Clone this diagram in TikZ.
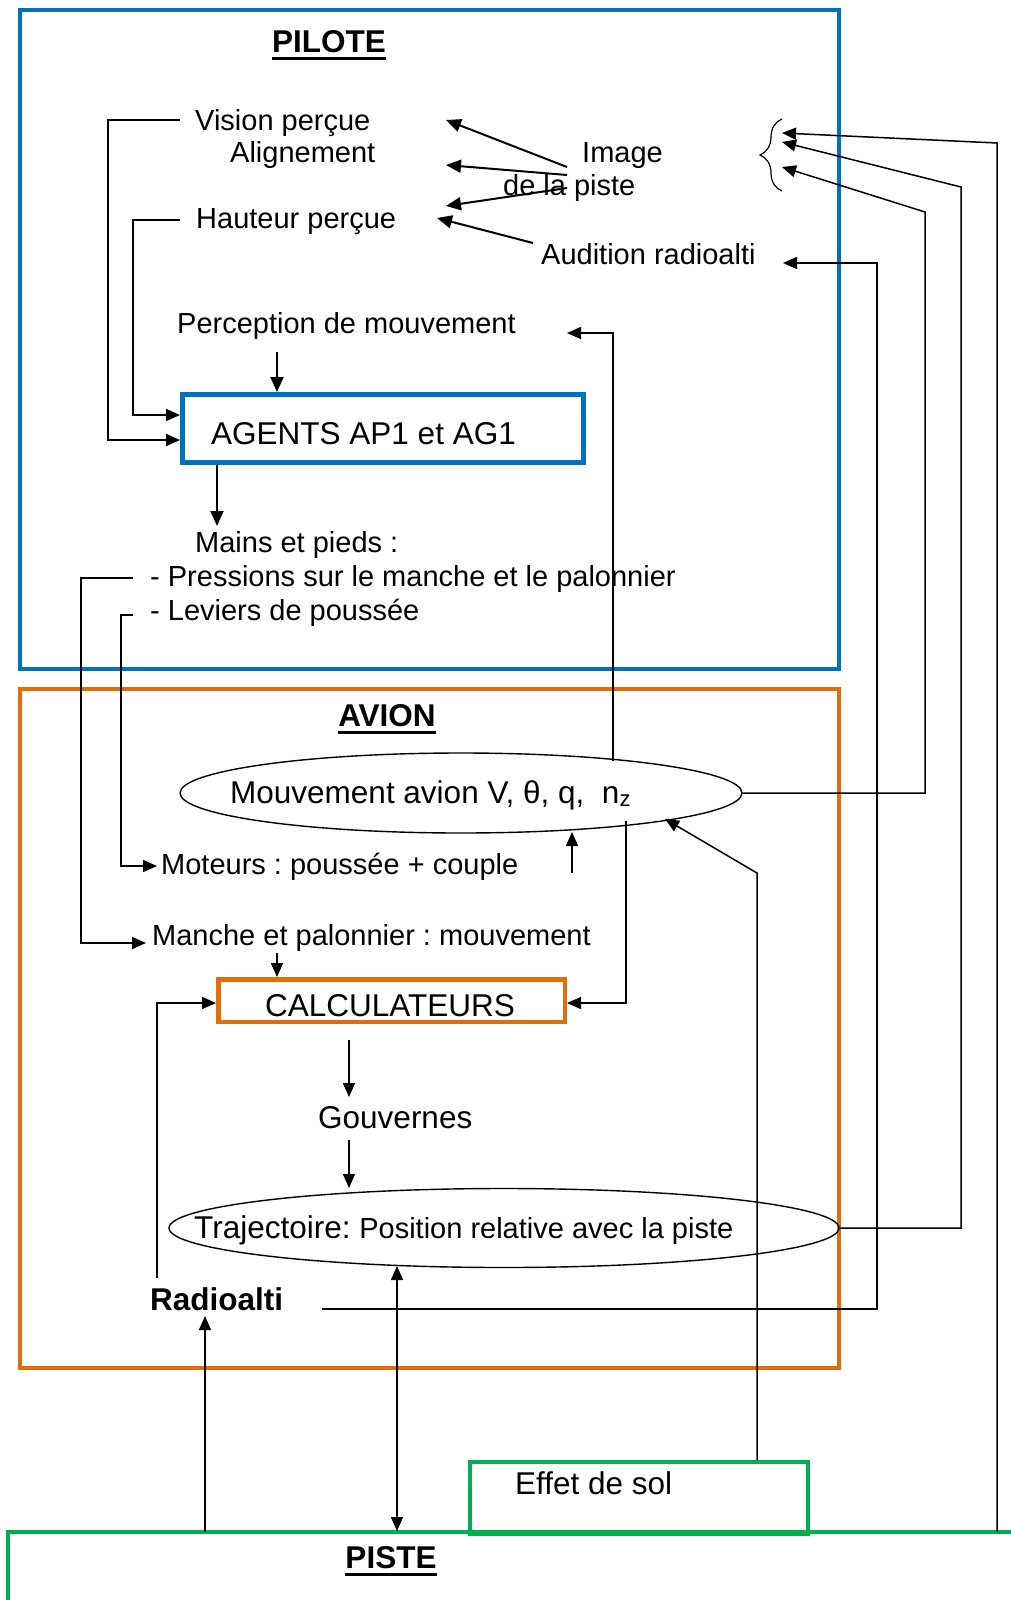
\documentclass[tikz,border=0pt]{standalone}
\usepackage{fontspec}
\setmainfont{Liberation Sans}
\usetikzlibrary{arrows.meta,shapes.geometric,decorations.pathreplacing}
\definecolor{pblue}{RGB}{0,112,192}
\definecolor{porange}{RGB}{228,108,10}
\definecolor{pgreen}{RGB}{0,176,80}
\newcommand\myul[1]{\setbox0\hbox{#1}\rlap{\rule[-7.5pt]{\wd0}{3pt}}\box0}
\frenchspacing
\begin{document}
\begin{tikzpicture}[x=1pt,y=-1pt,
  sm/.style={font=\fontsize{29}{34}\selectfont, inner sep=0pt, anchor=base west},
  lg/.style={font=\fontsize{31.5}{37}\selectfont, inner sep=0pt, anchor=base west},
  ttl/.style={font=\fontsize{31.5}{37}\selectfont\bfseries, inner sep=0pt, anchor=base},
  con/.style={line width=1.4pt},
  arr/.style={line width=1.5pt, -{Triangle[length=14pt,width=12pt]}},
  darr/.style={line width=1.5pt, {Triangle[length=14pt,width=12pt]}-{Triangle[length=14pt,width=12pt]}},
  tarr/.style={line width=2pt, -{Triangle[length=15pt,width=13pt]}},
  frame/.style={line width=3.5pt},
  ell/.style={draw, ellipse, line width=1.4pt, inner sep=0pt}
]
\useasboundingbox (0,0) rectangle (1010,1600);

% frames
\draw[frame, pblue] (20,10) rectangle (839,669);
\draw[frame, porange] (20,689) rectangle (839,1368);
\draw[frame, pgreen] (8,1625) -- (8,1532) -- (1020,1532);

% titles
\node[ttl] (pilote) at (329,53) {\myul{PILOTE}};
\node[ttl] (avion) at (387,726) {\myul{AVION}};
\node[ttl] (piste) at (391,1568) {\myul{PISTE}};

% PILOTE texts
\node[sm] (vision) at (195,131) {Vision perçue};
\node[sm] (align) at (230,162) {Alignement};
\node[sm] (hauteur) at (196,228) {Hauteur perçue};
\node[sm] (image) at (582,162) {Image};
\node[sm] (delapiste) at (503,195) {de la piste};
\node[sm] (audition) at (541,264) {Audition radioalti};
\node[sm] (percep) at (177,333) {Perception de mouvement};
\node[draw=pblue, line width=5pt, minimum width=401pt, minimum height=68pt, inner sep=0pt, anchor=north west] (agents) at (180,392) {};
\node[lg] (agentstxt) at (211,444) {AGENTS AP1 et AG1};
\node[sm] (mains) at (195,552) {Mains et pieds :};
\node[sm] (pressions) at (150,586) {- Pressions sur le manche et le palonnier};
\node[sm] (leviers) at (150,620) {- Leviers de poussée};

% brace
\draw[line width=1.2pt, decorate, decoration={brace, amplitude=22pt}] (782,191) -- (782,119);

% AVION
\node[ell, minimum width=562pt, minimum height=80pt] (mvt) at (461,793) {};
\node[lg] (mvttxt) at (230,803) {Mouvement avion V, θ, q,\ \ n\textsubscript{z}};
\node[sm] (moteurs) at (161,874) {Moteurs : poussée + couple};
\node[sm] (manche) at (152,945) {Manche et palonnier : mouvement};
\node[draw=porange, line width=4.5pt, minimum width=346.5pt, minimum height=42.5pt, inner sep=0pt, anchor=north west] (calc) at (216,977) {};
\node[lg] (calctxt) at (265,1016) {CALCULATEURS};
\node[lg] (gouv) at (318,1128) {Gouvernes};
\node[ell, minimum width=670pt, minimum height=79pt] (traj) at (504,1228) {};
\node[anchor=base west, inner sep=0pt] (trajtxt) at (194,1238) {\fontsize{31.5}{37}\selectfont Trajectoire: \fontsize{29}{34}\selectfont Position relative avec la piste};
\node[anchor=base west, inner sep=0pt, font=\fontsize{31.5}{37}\selectfont\bfseries] (radio) at (150,1310) {Radioalti};

% PISTE
\node[draw=pgreen, line width=3.5pt, minimum width=338pt, minimum height=72pt, inner sep=0pt, anchor=north west] (effet) at (468,1460) {};
\node[lg] (effettxt) at (515,1494) {Effet de sol};

% left connectors to agents
\draw[arr] (180,120) -| (108,440) -- (agents.west |- 0,440);
\draw[arr] (180,220) -| (133,415) -- (agents.west |- 0,415);
\draw[tarr] (277,352) -- (277,0 |- agents.north);
\draw[tarr] (agents.south -| 217,0) -- (217,526);

% image arrows
\draw[tarr] (567,167) -- (446,120);
\draw[tarr] (567,175) -- (446,165);
\draw[tarr] (567,188) -- (446,206);
\draw[tarr] (533,243) -- (437,218);

% mains et pieds to avion
\draw[arr] (133,578) -| (81,943) -- (146,943);
\draw[arr] (133,615) -| (121,866) -- (157,866);

% movement connectors
\draw[arr] (613,761) -- (613,333) -- (567,333);
\draw[arr] (626,821) -- (626,1003) -- (calc.east |- 0,1003);
\draw[arr] (572,873) -- (572,832);
\draw[arr] (277,953) -- (277,0 |- calc.north);
\draw[arr] (349,1040) -- (349,1097);
\draw[arr] (349,1140) -- (349,1188);
\draw[arr] (157,1278) |- (calc.west |- 0,1003);
\draw[darr] (397,1266) -- (397,1531);
\draw[arr] (205,1532) -- (205,1316);
\draw[arr] (effet.north -| 757,0) -- (757,873) -- (665,819);

% right side feedback lines
\draw[arr] (997,1532) -- (997,143) -- (782,133);
\draw[arr] (traj.east) -- (961,1228) -- (961,187) -- (782,142);
\draw[arr] (mvt.east) -- (925,793) -- (925,212) -- (782,167);
\draw[arr] (322,1309) -- (877,1309) -- (877,263) -- (783,263);
\end{tikzpicture}
\end{document}
